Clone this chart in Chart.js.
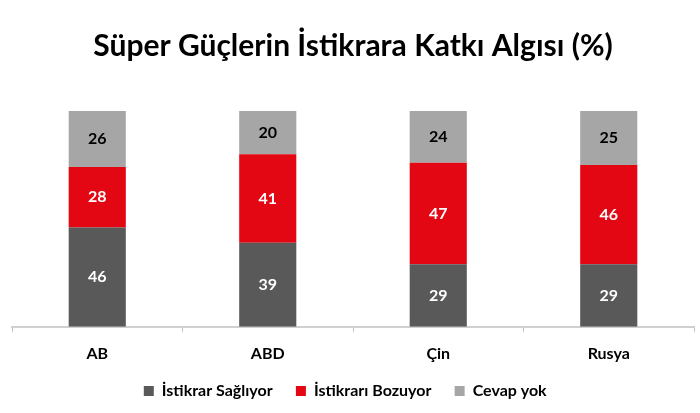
<!DOCTYPE html>
<html>
<head>
<meta charset="utf-8">
<script src="https://cdn.jsdelivr.net/npm/chart.js@4"></script>
<style>
  body { margin: 0; background: #fff; }
  #wrap { width: 700px; height: 413px; }
</style>
</head>
<body>
<div id="wrap"><canvas id="chart"></canvas></div>
<script>
var categories = ['AB', 'ABD', 'Çin', 'Rusya'];
var saglayan = [46, 39, 29, 29];
var bozan = [28, 41, 47, 46];
var cevapYok = [26, 20, 24, 25];

// draws the numbers inside each segment
var segmentLabels = {
    id: 'segmentLabels',
    afterDatasetsDraw: function(chart) {
        var ctx = chart.ctx;
        ctx.save();
        ctx.font = 'bold 16px Lato';
        ctx.textAlign = 'center';
        ctx.textBaseline = 'middle';
        chart.data.datasets.forEach(function(ds, i) {
            var meta = chart.getDatasetMeta(i);
            meta.data.forEach(function(bar, j) {
                var mid = (bar.y + bar.base) / 2;
                ctx.fillStyle = i === 2 ? '#000' : '#fff';
                ctx.fillText(ds.data[j], bar.x, mid);
            });
        });
        ctx.restore();
    }
};

var ctx = document.getElementById('chart').getContext('2d');
var chart = new Chart(ctx, {
    type: 'bar',
    data: {
        labels: categories,
        datasets: [{
            label: 'İstikrar Sağlıyor',
            data: saglayan,
            backgroundColor: '#595959'
        }, {
            label: 'İstikrarı Bozuyor',
            data: bozan,
            backgroundColor: '#e30613'
        }, {
            label: 'Cevap yok',
            data: cevapYok,
            backgroundColor: '#a6a6a6'
        }]
    },
    options: {
        responsive: true,
        maintainAspectRatio: false,
        animation: false,
        categoryPercentage: 1,
        barPercentage: 0.335,
        layout: { padding: { left: 12, right: 6, top: 8, bottom: 4 } },
        scales: {
            x: {
                stacked: true,
                grid: { offset: true, drawOnChartArea: false, tickLength: 5, color: '#bfbfbf' },
                border: { color: '#d0d0d0', width: 2 },
                ticks: { color: '#000', font: { family: 'Lato', size: 16, weight: 'bold' }, padding: 12 }
            },
            y: {
                stacked: true,
                display: false,
                min: 0,
                max: 100
            }
        },
        plugins: {
            title: {
                display: true,
                text: 'Süper Güçlerin İstikrara Katkı Algısı (%)',
                color: '#000',
                font: { family: 'Lato', size: 30, weight: 'bold' },
                padding: { top: 20, bottom: 47 }
            },
            legend: {
                position: 'bottom',
                labels: {
                    color: '#000',
                    boxWidth: 10,
                    boxHeight: 10,
                    padding: 8,
                    font: { family: 'Lato', size: 16, weight: 'bold' },
                    generateLabels: function(chart) {
                        var items = Chart.defaults.plugins.legend.labels.generateLabels(chart);
                        items.forEach(function(it) { it.text = it.text + '\u00a0\u00a0\u00a0\u00a0'; });
                        return items;
                    }
                }
            },
            tooltip: { enabled: false }
        }
    },
    plugins: [segmentLabels]
});
</script>
</body>
</html>
